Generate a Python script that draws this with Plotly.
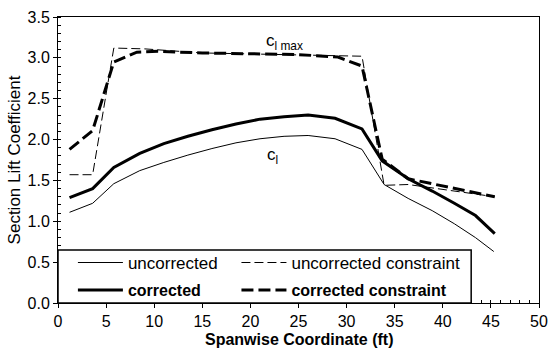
import plotly.graph_objects as go

# Spanwise stations (ft) and section lift coefficients
span_unc = [1.2, 3.6, 5.8, 8.5, 11.0, 13.5, 16.0, 18.5, 21.0, 23.5, 26.0, 28.8, 31.6, 33.9, 36.4, 38.9, 41.2, 43.4, 45.3]
cl_unc = [1.11, 1.22, 1.46, 1.62, 1.72, 1.81, 1.89, 1.96, 2.01, 2.04, 2.05, 2.01, 1.88, 1.45, 1.28, 1.13, 0.97, 0.80, 0.63]

span_cor = [1.2, 3.6, 5.8, 8.5, 11.0, 13.5, 16.0, 18.5, 21.0, 23.5, 26.0, 28.8, 31.6, 33.7, 36.4, 38.9, 41.2, 43.4, 45.4]
cl_cor = [1.29, 1.40, 1.66, 1.83, 1.95, 2.04, 2.12, 2.19, 2.25, 2.28, 2.30, 2.26, 2.13, 1.74, 1.52, 1.37, 1.22, 1.07, 0.85]

span_unc_con = [1.2, 3.6, 5.8, 9.0, 15.0, 20.0, 25.0, 31.6, 33.9, 36.4, 45.4]
clmax_unc = [1.57, 1.57, 3.12, 3.11, 3.06, 3.05, 3.04, 3.02, 1.44, 1.45, 1.30]

span_cor_con = [1.2, 3.6, 5.8, 8.2, 10.4, 15.0, 20.0, 25.0, 29.1, 31.6, 33.7, 36.4, 45.4]
clmax_cor = [1.88, 2.11, 2.95, 3.07, 3.08, 3.06, 3.05, 3.04, 3.01, 2.90, 1.76, 1.52, 1.30]

font = "Liberation Sans, Arial, sans-serif"

fig = go.Figure()
fig.add_trace(go.Scatter(x=span_unc, y=cl_unc, mode="lines", name="uncorrected",
                         line=dict(color="black", width=1), legend="legend"))
fig.add_trace(go.Scatter(x=span_unc_con, y=clmax_unc, mode="lines", name="uncorrected constraint",
                         line=dict(color="black", width=1, dash="9px,4px"), legend="legend2"))
fig.add_trace(go.Scatter(x=span_cor, y=cl_cor, mode="lines", name="<b>corrected</b>",
                         line=dict(color="black", width=3), legend="legend3"))
fig.add_trace(go.Scatter(x=span_cor_con, y=clmax_cor, mode="lines", name="<b>corrected constraint</b>",
                         line=dict(color="black", width=3, dash="12px,5px"), legend="legend4"))

# Legend panel
fig.add_shape(type="rect", xref="paper", yref="paper", x0=0, x1=0.859, y0=0, y1=0.185,
              fillcolor="white", line=dict(color="black", width=1.5), layer="above")

fig.add_annotation(x=23.5, y=3.19, xref="x", yref="y", text="c<sub>l max</sub>", showarrow=False,
                   font=dict(family=font, size=17, color="black"))
fig.add_annotation(x=22.3, y=1.80, xref="x", yref="y", text="c<sub>l</sub>", showarrow=False,
                   font=dict(family=font, size=17, color="black"))

# x-axis title
fig.add_annotation(x=0.5, y=0, xref="paper", yref="paper", yanchor="top", yshift=-26,
                   text="<b>Spanwise Coordinate (ft)</b>", showarrow=False,
                   font=dict(family=font, size=16, color="black"))

row1 = dict(family=font, size=17, color="black")
row2 = dict(family=font, size=16, color="black")
common = dict(orientation="h", bgcolor="rgba(0,0,0,0)", borderwidth=0,
              xanchor="left", yanchor="middle", itemwidth=45)

fig.update_layout(
    width=557, height=352,
    margin=dict(l=58, r=9, t=12, b=49),
    paper_bgcolor="white", plot_bgcolor="white",
    font=dict(family=font, size=16, color="black"),
    legend=dict(x=0.031, y=0.14, font=row1, **common),
    legend2=dict(x=0.371, y=0.14, font=row1, **common),
    legend3=dict(x=0.031, y=0.045, font=row2, **common),
    legend4=dict(x=0.371, y=0.045, font=row2, **common),
    xaxis=dict(range=[0, 50], dtick=5, tick0=0, showgrid=False, zeroline=False,
               showline=True, linecolor="black", linewidth=1, mirror=True,
               ticks="outside", ticklen=4, tickcolor="black",
               minor=dict(ticks="inside", dtick=1, ticklen=3, tickcolor="black"),
               tickfont=dict(family=font, size=16)),
    yaxis=dict(range=[0, 3.5], dtick=0.5, tick0=0, tickformat=".1f", showgrid=False, zeroline=False,
               showline=True, linecolor="black", linewidth=1, mirror=True,
               ticks="outside", ticklen=4, tickcolor="black",
               minor=dict(ticks="inside", dtick=0.1, ticklen=3, tickcolor="black"),
               tickfont=dict(family=font, size=16),
               title=dict(text="Section Lift Coefficient", font=dict(family=font, size=17), standoff=2)),
    showlegend=True,
)

fig.write_html("out.html")
